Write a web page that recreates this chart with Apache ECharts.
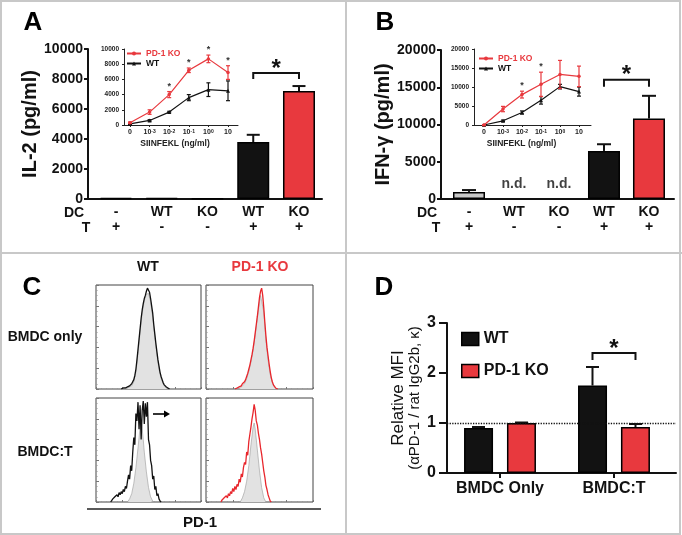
<!DOCTYPE html>
<html>
<head>
    <meta charset="UTF-8">
    <title>PD-1 DC figure</title>
    <script src="https://cdn.jsdelivr.net/npm/echarts@6/dist/echarts.min.js"></script>
    <style>
        html, body { margin: 0; padding: 0; background: #fff; }
        #main { width: 682px; height: 535px; }
    </style>
</head>
<body>
<div id="main"></div>
<script>
    var FONT = '"Liberation Sans", Arial, sans-serif';
    var RED = '#e8393e';
    var INK = '#121212';

    // ---- panel A: IL-2 ----
    var dcLabels = ['-', 'WT', 'KO', 'WT', 'KO'];
    var tLabels = ['+', '-', '-', '+', '+'];
    var il2 = [80, 60, 30, 3800, 7200];
    var il2Err = [0, 0, 0, 480, 330];
    var il2Colors = [INK, INK, RED, INK, RED];
    var il2Bracket = [3, 4, 8400];

    // inset A / B dose axis
    var doseLabels = ['0', '10^-3', '10^-2', '10^-1', '10^0', '10'];
    var il2KO = [300, 1700, 4000, 7200, 8700, 6900];
    var il2KOErr = [100, 300, 400, 300, 500, 900];
    var il2WT = [150, 600, 1700, 3600, 4650, 4500];
    var il2WTErr = [80, 100, 100, 400, 900, 1300];
    var il2Sig = [0, 0, 1, 1, 1, 1];

    // ---- panel B: IFN-g ----
    var ifn = [950, null, null, 6450, 10800];
    var ifnErr = [250, 0, 0, 900, 3050];
    var ifnColors = ['#c8c8c8', INK, RED, INK, RED];
    var ifnBracket = [3, 4, 16000];

    var ifnKO = [0, 4200, 8000, 10700, 13300, 12800];
    var ifnKOErr = [100, 700, 900, 3200, 3700, 2700];
    var ifnWT = [0, 1100, 3300, 6500, 10100, 8800];
    var ifnWTErr = [100, 200, 400, 1000, 600, 1200];
    var ifnSig = [0, 0, 1, 1, 0, 0];

    // ---- panel C: PD-1 histograms [channel, % of max] ----
    var wtOnlyFill = [[28,0],[30,1],[32,2],[34,3],[36,7],[38,16],[40,34],[42,55],[44,73],[46,85],[48,91],[50,92],[52,84],[54,69],[56,50],[58,33],[60,19],[62,10],[64,5],[66,2],[68,0]];
    var wtOnlyLine = [[24,0],[26,1],[28,1],[30,2],[32,3],[34,5],[36,9],[37,13],[38,19],[39,28],[40,38],[41,48],[42,58],[43,68],[44,76],[45,82],[46,87],[47,90],[48,94],[49,97],[50,95],[51,93],[52,87],[53,80],[54,73],[55,62],[56,53],[57,44],[58,36],[59,28],[60,22],[61,16],[62,12],[63,9],[64,6],[65,4],[66,3],[67,2],[68,1],[70,0]];
    var koOnlyFill = [[30,0],[32,1],[34,3],[36,5],[38,10],[40,17],[42,26],[44,37],[46,52],[48,68],[50,84],[51,90],[52,91],[54,74],[56,47],[58,28],[60,14],[62,6],[64,2],[66,0]];
    var koOnlyLine = [[27,0],[29,1],[31,2],[33,3],[34,5],[35,4],[36,7],[37,9],[38,12],[39,15],[40,19],[41,23],[42,28],[43,33],[44,39],[45,46],[46,54],[47,62],[48,70],[49,79],[50,88],[51,94],[52,97],[53,90],[54,78],[55,64],[56,51],[57,40],[58,32],[59,24],[60,17],[61,11],[62,7],[63,4],[64,3],[65,1],[67,0]];
    var wtTFill = [[30,0],[32,3],[34,8],[36,18],[38,33],[40,52],[41,62],[42,72],[43,78],[44,70],[45,60],[46,48],[48,29],[50,14],[52,5],[54,1],[55,0]];
    var wtTLine = [[14,0],[15,1],[16,3],[17,2],[18,5],[19,4],[20,7],[21,5],[22,9],[23,7],[24,10],[25,8],[26,12],[27,10],[28,15],[29,13],[30,20],[31,26],[32,22],[33,35],[34,30],[35,48],[36,62],[37,55],[38,85],[39,78],[40,96],[41,70],[42,93],[43,60],[44,88],[45,97],[46,75],[47,95],[48,82],[49,96],[50,60],[51,55],[52,40],[53,35],[54,22],[55,25],[56,12],[57,15],[58,6],[59,8],[60,3],[61,1],[62,0]];
    var koTFill = [[32,0],[34,4],[36,10],[38,20],[40,35],[42,55],[44,72],[45,76],[46,70],[48,50],[50,30],[52,14],[54,4],[56,0]];
    var koTLine = [[14,0],[15,2],[16,1],[17,4],[18,3],[19,6],[20,4],[21,8],[22,6],[23,10],[24,8],[25,13],[26,10],[27,15],[28,12],[29,17],[30,15],[31,22],[32,19],[33,27],[34,24],[35,33],[36,38],[37,36],[38,48],[39,45],[40,58],[41,65],[42,72],[43,80],[44,86],[45,94],[46,88],[47,78],[48,74],[49,66],[50,60],[51,52],[52,46],[53,38],[54,30],[55,24],[56,16],[57,12],[58,7],[59,4],[60,1],[61,0]];

    // ---- panel D: relative MFI ----
    var groups = ['BMDC Only', 'BMDC:T'];
    var mfiWT = [0.9, 1.75];
    var mfiWTErr = [0.02, 0.37];
    var mfiKO = [1.0, 0.92];
    var mfiKOErr = [0.01, 0.06];
    var mfiBracket = [1, 1, 2.4];
    var mfiRef = 1;

    function stripPrefix(n) { return n.slice(n.indexOf(':') + 1); }
    function plain(v) { return String(v); }

    function errBars(opt) {
        return function (params, api) {
            var x = api.value(0);
            var lo = api.coord([x, api.value(1)]);
            var hi = api.coord([x, api.value(2)]);
            var cx = lo[0] + (opt.shift || 0);
            var half = opt.cap / 2;
            var st = { stroke: opt.color, lineWidth: opt.width };
            var kids = [
                { type: 'line', shape: { x1: cx, y1: lo[1], x2: cx, y2: hi[1] }, style: st },
                { type: 'line', shape: { x1: cx - half, y1: hi[1], x2: cx + half, y2: hi[1] }, style: st }
            ];
            if (opt.both) {
                kids.push({ type: 'line', shape: { x1: cx - half, y1: lo[1], x2: cx + half, y2: lo[1] }, style: st });
            }
            if (api.value(3)) {
                kids.push({ type: 'text', style: { text: '*', x: cx, y: hi[1] - 1, align: 'center', verticalAlign: 'bottom',
                    fontSize: 9, fontWeight: 'bold', fontFamily: FONT, fill: '#333' } });
            }
            return { type: 'group', children: kids };
        };
    }

    function bracket(opt) {
        return function (params, api) {
            var y = api.value(2);
            var p1 = api.coord([api.value(0), y]);
            var p2 = api.coord([api.value(1), y]);
            var x1 = p1[0] + opt.off1, x2 = p2[0] + opt.off2, yy = p1[1];
            return { type: 'group', children: [
                { type: 'polyline', shape: { points: [[x1, yy + opt.leg], [x1, yy], [x2, yy], [x2, yy + opt.leg]] },
                  style: { stroke: INK, lineWidth: 2, fill: 'none' } },
                { type: 'text', style: { text: '*', x: (x1 + x2) / 2, y: yy - 4, align: 'center', verticalAlign: 'middle',
                    fontSize: 24, fontWeight: 'bold', fontFamily: FONT, fill: INK } }
            ] };
        };
    }

    function doseFmt(v) {
        var s = doseLabels[Math.round(v)];
        var p = s.split('^');
        return p.length > 1 ? '{n|' + p[0] + '}{s|' + p[1] + '}' : '{n|' + s + '}';
    }
    var doseRich = {
        n: { fontSize: 7, fontWeight: 'bold', fontFamily: FONT, color: '#222' },
        s: { fontSize: 5, fontWeight: 'bold', fontFamily: FONT, color: '#222', verticalAlign: 'top' }
    };

    var mainYLabel = { fontSize: 14, fontWeight: 'bold', color: INK, margin: 5, formatter: plain };
    var insetYLabel = { fontSize: 6.5, fontWeight: 'bold', color: '#222', margin: 5, formatter: plain };

    function mainX(min, max) {
        return {
            type: 'value', min: min, max: max,
            axisLine: { onZero: false, lineStyle: { color: INK, width: 2 } },
            axisTick: { show: false },
            splitLine: { show: false },
            axisLabel: { customValues: [0, 1, 2, 3, 4], margin: 6, fontSize: 14, fontWeight: 'bold', lineHeight: 15, color: INK,
                formatter: function (v) { var i = Math.round(v); return dcLabels[i] + '\n' + tLabels[i]; } }
        };
    }
    function insetX(min, max, shiftPad) {
        return {
            type: 'value', min: min, max: max,
            axisLine: { onZero: false, lineStyle: { color: '#222', width: 1 } },
            axisTick: { customValues: [0, 1, 2, 3, 4, 5], length: 2, lineStyle: { color: '#222' } },
            splitLine: { show: false },
            axisLabel: { customValues: [0, 1, 2, 3, 4, 5], margin: 4, formatter: doseFmt, rich: doseRich },
            name: 'SIINFEKL (ng/ml)', nameLocation: 'middle', nameGap: 14,
            nameTextStyle: { fontSize: 8.5, fontWeight: 'bold', color: '#222', padding: [0, shiftPad, 0, 0] }
        };
    }
    function mainY(gi, max, step, name, gap) {
        return { gridIndex: gi, type: 'value', min: 0, max: max, interval: step, splitLine: { show: false },
            axisLine: { show: true, onZero: false, lineStyle: { color: INK, width: 2 } },
            axisTick: { show: true, length: 4, lineStyle: { color: INK, width: 2 } },
            axisLabel: mainYLabel,
            name: name, nameLocation: 'middle', nameGap: gap,
            nameTextStyle: { fontSize: 20, fontWeight: 'bold', color: INK } };
    }
    function insetY(gi, max, step) {
        return { gridIndex: gi, type: 'value', min: 0, max: max, interval: step, splitLine: { show: false },
            axisLine: { show: true, onZero: false, lineStyle: { color: '#222', width: 1 } },
            axisTick: { show: true, length: 2, lineStyle: { color: '#222' } },
            axisLabel: insetYLabel };
    }
    function histX(gi) {
        return { gridIndex: gi, type: 'value', min: 0, max: 100, interval: 25,
            axisLine: { show: false, onZero: false }, axisLabel: { show: false }, splitLine: { show: false },
            axisTick: { inside: true, length: 2, lineStyle: { color: '#777' } },
            minorTick: { show: true, splitNumber: 5, length: 1, lineStyle: { color: '#999' } } };
    }
    function histY(gi) {
        return { gridIndex: gi, type: 'value', min: 0, max: 100, interval: 20,
            axisLine: { show: false, onZero: false }, axisLabel: { show: false }, splitLine: { show: false },
            axisTick: { inside: true, length: 3, lineStyle: { color: '#777' } },
            minorTick: { show: true, splitNumber: 4, length: 1.5, lineStyle: { color: '#999' } } };
    }
    function histSeries(gi, fill, line, color) {
        return [{
            type: 'line', xAxisIndex: gi, yAxisIndex: gi, data: fill, symbol: 'none', z: 2,
            lineStyle: { width: 0.6, color: '#9a9a9a' }, areaStyle: { color: '#e2e2e2', opacity: 1 }
        }, {
            type: 'line', xAxisIndex: gi, yAxisIndex: gi, data: line, symbol: 'none', z: 3,
            lineStyle: { width: 1.3, color: color }
        }];
    }
    function label(x, y, text, size, color) {
        return { type: 'text', x: x, y: y, style: { text: text, fontSize: size, fontWeight: 'bold', fontFamily: FONT,
            fill: color || INK, align: 'center', verticalAlign: 'middle' } };
    }

    var option = {
        animation: false,
        textStyle: { fontFamily: FONT },
        grid: [
            { left: 88, top: 49, width: 234, height: 150 },                 // 0 A
            { left: 124, top: 49, width: 114, height: 76 },                 // 1 A inset
            { left: 441, top: 50, width: 233, height: 149 },                // 2 B
            { left: 474, top: 49, width: 117, height: 76 },                 // 3 B inset
            { left: 96, top: 285, width: 105, height: 104, show: true, borderColor: '#444', borderWidth: 1 },  // 4
            { left: 206, top: 285, width: 107, height: 104, show: true, borderColor: '#444', borderWidth: 1 }, // 5
            { left: 96, top: 398, width: 105, height: 104, show: true, borderColor: '#444', borderWidth: 1 },  // 6
            { left: 206, top: 398, width: 107, height: 104, show: true, borderColor: '#444', borderWidth: 1 }, // 7
            { left: 447, top: 323, width: 229, height: 150 }                // 8 D
        ],
        legend: [{
            data: [{ name: 'A:PD-1 KO', textStyle: { color: RED } }, { name: 'A:WT', textStyle: { color: INK } }],
            formatter: stripPrefix, selectedMode: false, orient: 'vertical', left: 126, top: 49,
            itemWidth: 14, itemHeight: 5, itemGap: 1, textStyle: { fontSize: 8.5, fontWeight: 'bold' }, padding: 0
        }, {
            data: [{ name: 'B:PD-1 KO', textStyle: { color: RED } }, { name: 'B:WT', textStyle: { color: INK } }],
            formatter: stripPrefix, selectedMode: false, orient: 'vertical', left: 478, top: 54,
            itemWidth: 14, itemHeight: 5, itemGap: 1, textStyle: { fontSize: 8.5, fontWeight: 'bold' }, padding: 0
        }, {
            data: ['D:WT', 'D:PD-1 KO'], formatter: stripPrefix, selectedMode: false, orient: 'vertical',
            left: 461, top: 331, icon: 'rect', itemWidth: 17, itemHeight: 13, itemGap: 16,
            itemStyle: { borderColor: '#000', borderWidth: 1.5 },
            textStyle: { fontSize: 16, fontWeight: 'bold', color: INK, lineHeight: 16 }, padding: 0
        }],
        xAxis: [
            Object.assign({ gridIndex: 0 }, mainX(-0.612, 4.503)),
            Object.assign({ gridIndex: 1 }, insetX(-0.306, 5.51, 12)),
            Object.assign({ gridIndex: 2 }, mainX(-0.622, 4.556)),
            Object.assign({ gridIndex: 3 }, insetX(-0.526, 5.632, 22)),
            histX(4), histX(5), histX(6), histX(7),
            {
                gridIndex: 8, type: 'value', min: -0.465, max: 1.544,
                axisLine: { onZero: false, lineStyle: { color: INK, width: 2 } },
                axisTick: { customValues: [0, 1], length: 5, lineStyle: { color: INK, width: 2 } },
                splitLine: { show: false },
                axisLabel: { customValues: [0, 1], margin: 8, fontSize: 16, fontWeight: 'bold', color: INK,
                    formatter: function (v) { return groups[Math.round(v)]; } }
            }
        ],
        yAxis: [
            mainY(0, 10000, 2000, 'IL-2 (pg/ml)', 45),
            insetY(1, 10000, 2000),
            mainY(2, 20000, 5000, 'IFN-γ (pg/ml)', 47),
            insetY(3, 20000, 5000),
            histY(4), histY(5), histY(6), histY(7),
            { gridIndex: 8, type: 'value', min: 0, max: 3, interval: 1, splitLine: { show: false },
              axisLine: { show: true, onZero: false, lineStyle: { color: INK, width: 2 } },
              axisTick: { show: true, length: 8, lineStyle: { color: INK, width: 2 } },
              axisLabel: { fontSize: 16, fontWeight: 'bold', color: INK, margin: 11 },
              name: '{a|Relative MFI}\n{b|(αPD-1 / rat IgG2b, κ)}', nameLocation: 'middle', nameGap: 24,
              nameTextStyle: { color: INK, rich: { a: { fontSize: 17, color: INK, lineHeight: 17 }, b: { fontSize: 15, color: INK, lineHeight: 16 } } } }
        ],
        series: [
            // A main
            { type: 'bar', xAxisIndex: 0, yAxisIndex: 0, barWidth: 32,
              itemStyle: { borderColor: '#000', borderWidth: 1.5 },
              data: il2.map(function (v, i) { return { value: [i, v], itemStyle: { color: il2Colors[i] } }; }) },
            { type: 'custom', xAxisIndex: 0, yAxisIndex: 0, renderItem: errBars({ cap: 13, color: INK, width: 2 }),
              data: il2.map(function (v, i) { return [i, v, v + il2Err[i], 0]; }).filter(function (d, i) { return il2Err[i] > 0; }) },
            { type: 'custom', xAxisIndex: 0, yAxisIndex: 0, renderItem: bracket({ off1: 0, off2: 0, leg: 6 }), data: [il2Bracket] },
            // A inset
            { name: 'A:PD-1 KO', type: 'line', xAxisIndex: 1, yAxisIndex: 1, color: RED, symbol: 'circle', symbolSize: 3.5,
              lineStyle: { width: 1.2 }, data: il2KO.map(function (v, i) { return [i, v]; }), z: 4 },
            { name: 'A:WT', type: 'line', xAxisIndex: 1, yAxisIndex: 1, color: INK, symbol: 'triangle', symbolSize: 4,
              lineStyle: { width: 1.2 }, data: il2WT.map(function (v, i) { return [i, v]; }), z: 3 },
            { type: 'custom', xAxisIndex: 1, yAxisIndex: 1, z: 4, renderItem: errBars({ cap: 4, color: RED, width: 1.2, both: true }),
              data: il2KO.map(function (v, i) { return [i, v - il2KOErr[i], v + il2KOErr[i], il2Sig[i]]; }) },
            { type: 'custom', xAxisIndex: 1, yAxisIndex: 1, z: 3, renderItem: errBars({ cap: 4, color: INK, width: 1.2, both: true }),
              data: il2WT.map(function (v, i) { return [i, v - il2WTErr[i], v + il2WTErr[i], 0]; }) },
            // B main
            { type: 'bar', xAxisIndex: 2, yAxisIndex: 2, barWidth: 32,
              itemStyle: { borderColor: '#000', borderWidth: 1.5 },
              data: ifn.map(function (v, i) { return { value: [i, v], itemStyle: { color: ifnColors[i] } }; }) },
            { type: 'custom', xAxisIndex: 2, yAxisIndex: 2, renderItem: errBars({ cap: 14, color: INK, width: 2 }),
              data: ifn.map(function (v, i) { return [i, v, v + ifnErr[i], 0]; }).filter(function (d, i) { return ifnErr[i] > 0; }) },
            { type: 'custom', xAxisIndex: 2, yAxisIndex: 2, renderItem: bracket({ off1: 0, off2: 0, leg: 7 }), data: [ifnBracket] },
            { type: 'scatter', xAxisIndex: 2, yAxisIndex: 2, symbolSize: 0,
              data: ifn.map(function (v, i) { return v === null ? [i, 0] : null; }).filter(function (d) { return d; }),
              label: { show: true, position: 'top', distance: 8, formatter: 'n.d.', fontSize: 14, fontWeight: 'bold', color: INK } },
            // B inset
            { name: 'B:PD-1 KO', type: 'line', xAxisIndex: 3, yAxisIndex: 3, color: RED, symbol: 'circle', symbolSize: 3.5,
              lineStyle: { width: 1.2 }, data: ifnKO.map(function (v, i) { return [i, v]; }), z: 4 },
            { name: 'B:WT', type: 'line', xAxisIndex: 3, yAxisIndex: 3, color: INK, symbol: 'triangle', symbolSize: 4,
              lineStyle: { width: 1.2 }, data: ifnWT.map(function (v, i) { return [i, v]; }), z: 3 },
            { type: 'custom', xAxisIndex: 3, yAxisIndex: 3, z: 4, renderItem: errBars({ cap: 4, color: RED, width: 1.2, both: true }),
              data: ifnKO.map(function (v, i) { return [i, v - ifnKOErr[i], v + ifnKOErr[i], ifnSig[i]]; }) },
            { type: 'custom', xAxisIndex: 3, yAxisIndex: 3, z: 3, renderItem: errBars({ cap: 4, color: INK, width: 1.2, both: true }),
              data: ifnWT.map(function (v, i) { return [i, v - ifnWTErr[i], v + ifnWTErr[i], 0]; }) },
            // D
            { name: 'D:WT', type: 'bar', xAxisIndex: 8, yAxisIndex: 8, barWidth: 29, barGap: '48%', color: INK,
              itemStyle: { borderColor: '#000', borderWidth: 1.5 },
              data: mfiWT.map(function (v, i) { return [i, v]; }),
              markLine: { silent: true, symbol: 'none', label: { show: false },
                  lineStyle: { type: 'dotted', color: INK, width: 1.3 }, data: [{ yAxis: mfiRef }] } },
            { name: 'D:PD-1 KO', type: 'bar', xAxisIndex: 8, yAxisIndex: 8, barWidth: 29, barGap: '48%', color: RED,
              itemStyle: { borderColor: '#000', borderWidth: 1.5 },
              data: mfiKO.map(function (v, i) { return [i, v]; }) },
            { type: 'custom', xAxisIndex: 8, yAxisIndex: 8, renderItem: errBars({ cap: 13, color: INK, width: 2, shift: -21.5 }),
              data: mfiWT.map(function (v, i) { return [i, v, v + mfiWTErr[i], 0]; }) },
            { type: 'custom', xAxisIndex: 8, yAxisIndex: 8, renderItem: errBars({ cap: 13, color: INK, width: 2, shift: 21.5 }),
              data: mfiKO.map(function (v, i) { return [i, v, v + mfiKOErr[i], 0]; }) },
            { type: 'custom', xAxisIndex: 8, yAxisIndex: 8, renderItem: bracket({ off1: -21.5, off2: 21.5, leg: 7 }), data: [mfiBracket] }
        ].concat(
            histSeries(4, wtOnlyFill, wtOnlyLine, '#111'),
            histSeries(5, koOnlyFill, koOnlyLine, '#e8262c'),
            histSeries(6, wtTFill, wtTLine, '#111'),
            histSeries(7, koTFill, koTLine, '#e8262c')
        ),
        graphic: [
            { type: 'rect', silent: true, shape: { x: 1, y: 1, width: 679, height: 533 }, style: { fill: 'none', stroke: '#c8c8c8', lineWidth: 2 } },
            { type: 'line', silent: true, shape: { x1: 346, y1: 0, x2: 346, y2: 535 }, style: { stroke: '#c8c8c8', lineWidth: 2 } },
            { type: 'line', silent: true, shape: { x1: 0, y1: 253, x2: 682, y2: 253 }, style: { stroke: '#c8c8c8', lineWidth: 2 } },
            label(33, 23, 'A', 26, '#000'),
            label(385, 23, 'B', 26, '#000'),
            label(32, 288, 'C', 26, '#000'),
            label(384, 288, 'D', 26, '#000'),
            label(74, 213, 'DC', 14), label(86, 228, 'T', 14),
            label(427, 213, 'DC', 14), label(436, 228, 'T', 14),
            label(148, 267, 'WT', 14), label(260, 267, 'PD-1 KO', 14, RED),
            label(45, 337, 'BMDC only', 14), label(45, 452, 'BMDC:T', 14),
            { type: 'line', silent: true, shape: { x1: 87, y1: 509, x2: 321, y2: 509 }, style: { stroke: '#222', lineWidth: 1.5 } },
            label(200, 523, 'PD-1', 15),
            { type: 'line', silent: true, shape: { x1: 153, y1: 414, x2: 166, y2: 414 }, style: { stroke: '#000', lineWidth: 1.6 } },
            { type: 'polygon', silent: true, shape: { points: [[170, 414], [164, 410.5], [164, 417.5]] }, style: { fill: '#000' } }
        ]
    };

    var chart = echarts.init(document.getElementById('main'), null, { renderer: 'canvas' });
    chart.setOption(option);
    window.addEventListener('resize', chart.resize);
</script>
</body>
</html>
